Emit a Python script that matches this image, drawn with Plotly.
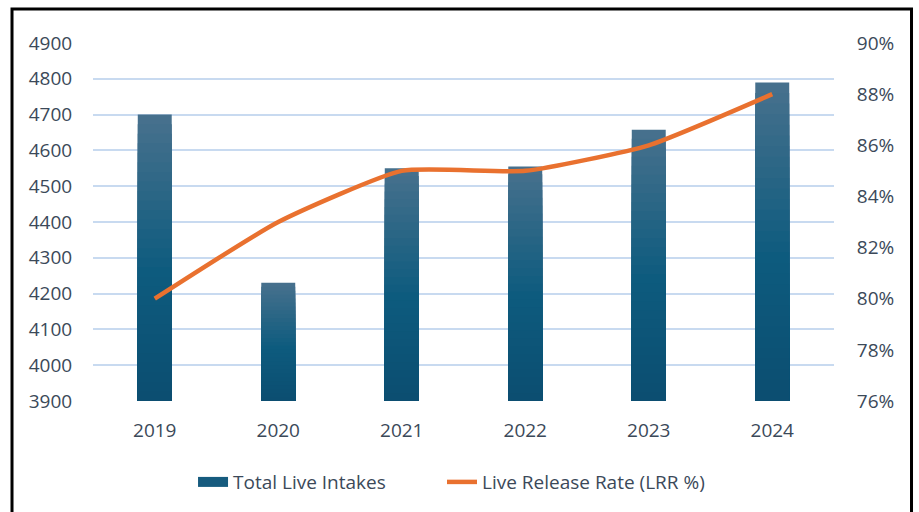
import plotly.graph_objects as go

years = ["2019", "2020", "2021", "2022", "2023", "2024"]
total_live_intakes = [4700, 4230, 4550, 4555, 4658, 4790]
live_release_rate = [80, 83, 85, 85, 86, 88]

left_ticks = [3900, 4000, 4100, 4200, 4300, 4400, 4500, 4600, 4700, 4800, 4900]
right_ticks = [76, 78, 80, 82, 84, 86, 88, 90]
right_tick_labels = [f"{v}%" for v in right_ticks]

font_color = "#3B4959"
grid_color = "#C8DAF0"
axis_min = left_ticks[0]

# gradient stops (fraction from top of bar, rgb)
stops = [(0.0, (72, 113, 141)), (0.55, (13, 91, 126)), (1.0, (12, 78, 113))]


def grad_color(t):
    for (t0, c0), (t1, c1) in zip(stops[:-1], stops[1:]):
        if t <= t1:
            f = (t - t0) / (t1 - t0)
            return "rgb(%d,%d,%d)" % tuple(round(a + (b - a) * f) for a, b in zip(c0, c1))
    return "rgb(%d,%d,%d)" % stops[-1][1]


fig = go.Figure()

N = 30
for k in range(N):
    frac = 1 - k / N
    fig.add_trace(go.Bar(
        x=years,
        y=[axis_min + (v - axis_min) * frac for v in total_live_intakes],
        marker=dict(color=grad_color((k + 0.5) / N), line=dict(width=0)),
        showlegend=False, hoverinfo="skip" if k else None,
        name="Total Live Intakes",
    ))

# legend swatch for bars
fig.add_trace(go.Scatter(
    x=[None], y=[None], mode="lines", name="Total Live Intakes",
    line=dict(color="#165B7E", width=10), legend="legend",
))
fig.add_trace(go.Scatter(
    x=years, y=live_release_rate, name="Live Release Rate (LRR %)",
    mode="lines", line=dict(color="#E9712F", width=4.5, shape="spline", smoothing=0.5),
    yaxis="y2", legend="legend2",
))

legend_common = dict(orientation="h", xanchor="left", y=-0.223, yanchor="middle",
                     font=dict(size=19, color=font_color), bgcolor="rgba(0,0,0,0)")

fig.update_layout(
    width=919, height=512,
    margin=dict(l=93, r=85, t=43, b=110),
    paper_bgcolor="white", plot_bgcolor="white",
    font=dict(family="Open Sans", size=19, color=font_color),
    barmode="overlay",
    bargap=0.725,
    showlegend=True,
    legend=dict(x=0.135, **legend_common),
    legend2=dict(x=0.471, **legend_common),
    xaxis=dict(showgrid=False, showline=False, ticks="outside", ticklen=12,
               tickcolor="rgba(0,0,0,0)", tickfont=dict(size=19)),
    yaxis=dict(range=[3900, 4900], tickvals=left_ticks, showgrid=True,
               gridcolor=grid_color, gridwidth=1.5, zeroline=False,
               ticks="outside", ticklen=16, tickcolor="rgba(0,0,0,0)",
               tickfont=dict(size=19)),
    yaxis2=dict(range=[76, 90], tickvals=right_ticks, ticktext=right_tick_labels,
                overlaying="y", side="right", showgrid=False, zeroline=False,
                ticks="outside", ticklen=18, tickcolor="rgba(0,0,0,0)",
                tickfont=dict(size=19)),
    shapes=[dict(type="rect", xref="paper", yref="paper",
                 x0=-0.1093, x1=1.1046, y0=-0.33, y1=1.0947,
                 line=dict(color="black", width=3), fillcolor="rgba(0,0,0,0)",
                 layer="above")],
)

fig.write_html("out.html", config={"displayModeBar": False},
               post_script="document.body.style.margin='0px';")
